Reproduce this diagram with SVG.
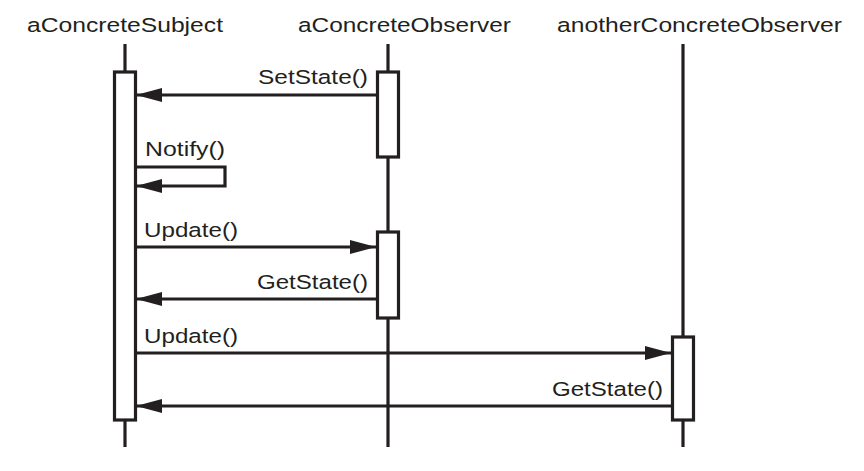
<svg xmlns="http://www.w3.org/2000/svg" width="864" height="471" viewBox="0 0 864 471">
<style>
  text { font-family: "Liberation Sans", Arial, sans-serif; font-size: 20.5px; fill: #231f20; }
  .life { stroke: #231f20; stroke-width: 3.2; fill: none; }
  .act { stroke: #231f20; stroke-width: 3.2; fill: #ffffff; }
  .msg { stroke: #231f20; stroke-width: 3.2; fill: none; }
</style>
<defs>
  <marker id="ah" markerUnits="userSpaceOnUse" markerWidth="28" markerHeight="16" refX="26" refY="8" orient="auto">
    <path d="M0,1 L26,8 L0,15 Z" fill="#231f20"/>
  </marker>
</defs>
<rect width="864" height="471" fill="#ffffff"/>
<g id="aConcreteSubject">
  <text x="27" y="32" textLength="196" lengthAdjust="spacingAndGlyphs">aConcreteSubject</text>
  <line class="life" x1="125" y1="44" x2="125" y2="447"/>
  <rect class="act" x="114.5" y="72" width="21" height="348"/>
</g>
<g id="aConcreteObserver">
  <text x="298" y="32" textLength="213" lengthAdjust="spacingAndGlyphs">aConcreteObserver</text>
  <line class="life" x1="388" y1="44" x2="388" y2="447"/>
  <rect class="act" x="377.5" y="72" width="21" height="85"/>
  <rect class="act" x="377.5" y="232" width="21" height="86"/>
</g>
<g id="anotherConcreteObserver">
  <text x="557" y="32" textLength="285" lengthAdjust="spacingAndGlyphs">anotherConcreteObserver</text>
  <line class="life" x1="683" y1="44" x2="683" y2="447"/>
  <rect class="act" x="672.5" y="337" width="21" height="83"/>
</g>
<g id="connectors">
  <line class="msg" x1="376" y1="95" x2="136" y2="95" marker-end="url(#ah)"/>
  <text x="258" y="84" textLength="110" lengthAdjust="spacingAndGlyphs">SetState()</text>
  <polyline class="msg" points="136,167 225,167 225,186 136,186" marker-end="url(#ah)"/>
  <text x="145" y="156" textLength="80" lengthAdjust="spacingAndGlyphs">Notify()</text>
  <line class="msg" x1="136" y1="247" x2="376" y2="247" marker-end="url(#ah)"/>
  <text x="144" y="237" textLength="94" lengthAdjust="spacingAndGlyphs">Update()</text>
  <line class="msg" x1="376" y1="299" x2="136" y2="299" marker-end="url(#ah)"/>
  <text x="257" y="289" textLength="111" lengthAdjust="spacingAndGlyphs">GetState()</text>
  <line class="msg" x1="136" y1="353" x2="671" y2="353" marker-end="url(#ah)"/>
  <text x="144" y="343" textLength="94" lengthAdjust="spacingAndGlyphs">Update()</text>
  <line class="msg" x1="671" y1="406" x2="136" y2="406" marker-end="url(#ah)"/>
  <text x="552" y="396" textLength="111" lengthAdjust="spacingAndGlyphs">GetState()</text>
</g>
</svg>
